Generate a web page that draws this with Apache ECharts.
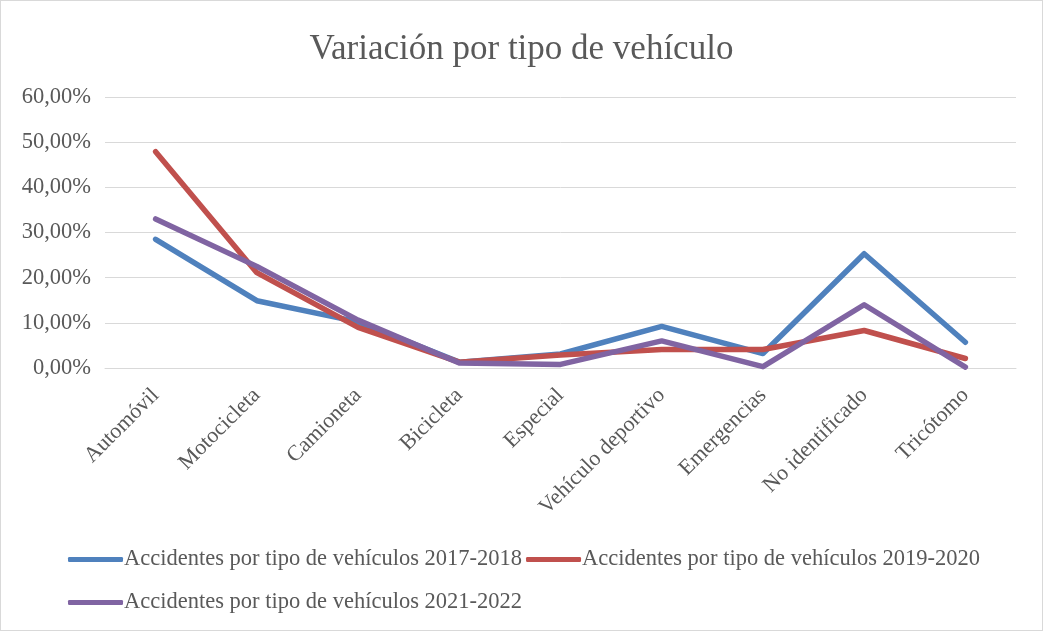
<!DOCTYPE html>
<html>
<head>
<meta charset="utf-8">
<script src="https://cdn.jsdelivr.net/npm/echarts@6/dist/echarts.min.js"></script>
<style>
  html, body { margin: 0; padding: 0; background: #fff; }
  #chart { width: 1041px; height: 629px; border: 1px solid #d9d9d9; }
</style>
</head>
<body>
<div id="chart"></div>
<script>
// categories and values (%)
var categories = ['Automóvil', 'Motocicleta', 'Camioneta', 'Bicicleta', 'Especial',
  'Vehículo deportivo', 'Emergencias', 'No identificado', 'Tricótomo'];
var serie_2017_2018 = [28.5, 14.9, 10.2, 1.3, 3.1, 9.2, 3.2, 25.3, 5.7];
var serie_2019_2020 = [47.9, 21.1, 9.0, 1.3, 2.9, 4.1, 4.1, 8.3, 2.1];
var serie_2021_2022 = [33.0, 22.5, 10.6, 1.1, 0.8, 6.0, 0.3, 14.0, 0.2];
var series_names = ['Accidentes por tipo de vehículos 2017-2018',
  'Accidentes por tipo de vehículos 2019-2020',
  'Accidentes por tipo de vehículos 2021-2022'];
var y_ticks = [0, 10, 20, 30, 40, 50, 60];

var font = '"Liberation Serif", "Times New Roman", serif';
var text_color = '#595959';

var chart = echarts.init(document.getElementById('chart'));

function line_series(name, data, color) {
  return {
    name: name,
    type: 'line',
    data: data,
    symbol: 'none',
    lineStyle: { width: 5.5, color: color, cap: 'round', join: 'round' },
    itemStyle: { color: color },
    animation: false
  };
}

function legend_at(top, names) {
  return {
    left: 62,
    top: top,
    itemWidth: 55,
    itemHeight: 5,
    itemGap: 4,
    icon: 'roundRect',
    textStyle: { fontFamily: font, fontSize: 22.5, color: text_color, padding: [0, 0, 0, -4] },
    data: names
  };
}

chart.setOption({
  textStyle: { fontFamily: font },
  title: {
    text: 'Variación por tipo de vehículo',
    left: 'center',
    top: 26,
    textStyle: { fontFamily: font, fontSize: 35, fontWeight: 'normal', color: text_color }
  },
  legend: [
    legend_at(542, series_names.slice(0, 2)),
    legend_at(585, series_names.slice(2))
  ],
  grid: { left: 104, right: 26, top: 96, bottom: 262, containLabel: false },
  xAxis: {
    type: 'category',
    data: categories,
    boundaryGap: true,
    axisLine: { show: true, lineStyle: { color: '#d9d9d9' } },
    axisTick: { show: false },
    axisLabel: {
      interval: 0,
      rotate: 45,
      margin: 24,
      fontFamily: font,
      fontSize: 22,
      color: text_color
    }
  },
  yAxis: {
    type: 'value',
    min: y_ticks[0],
    max: y_ticks[y_ticks.length - 1],
    interval: 10,
    axisLine: { show: false },
    axisTick: { show: false },
    splitLine: { lineStyle: { color: '#d9d9d9', width: 1 } },
    axisLabel: {
      margin: 14,
      fontFamily: font,
      fontSize: 22.5,
      color: text_color,
      formatter: function (v) { return v.toFixed(2).replace('.', ',') + '%'; }
    }
  },
  series: [
    line_series(series_names[0], serie_2017_2018, '#4F81BD'),
    line_series(series_names[1], serie_2019_2020, '#C0504D'),
    line_series(series_names[2], serie_2021_2022, '#8064A2')
  ]
});
</script>
</body>
</html>
